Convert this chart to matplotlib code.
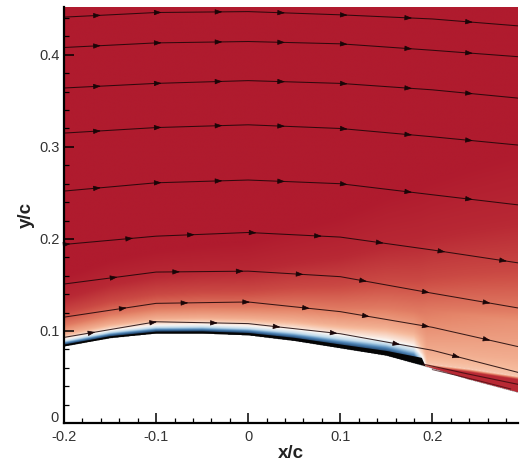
import numpy as np
import matplotlib
matplotlib.use('Agg')
import matplotlib.pyplot as plt
from matplotlib.colors import LinearSegmentedColormap
from matplotlib.ticker import MultipleLocator

plt.rcParams['font.family'] = ['Liberation Sans', 'DejaVu Sans']

# upper surface of the body
surf_x = [-0.2, -0.15, -0.1, -0.05, 0.0, 0.05, 0.1, 0.15, 0.19, 0.24, 0.293]
surf_y = [0.083, 0.092, 0.097, 0.097, 0.095, 0.089, 0.081, 0.073, 0.062, 0.047, 0.033]

# colour level against wall distance, near x/c = -0.15
prof_d = [0.0, 0.002, 0.004, 0.006, 0.009, 0.015, 0.025, 0.04, 0.06, 0.085]
prof_v = [0.0, 0.12, 0.3, 0.44, 0.54, 0.65, 0.76, 0.86, 0.94, 1.0]

# stretch of that profile along the chord
grow_x = [-0.2, -0.15, 0.0, 0.1, 0.2, 0.293]
grow_s = [0.9, 1.0, 1.2, 1.7, 2.4, 2.9]

# red separated pocket behind x/c ~ 0.19 (thickness above the wall)
wake_x = [0.185, 0.24, 0.293]
wake_w = [0.0, 0.010, 0.016]

# dark band of packed streamlines on the wall
band_x = [-0.2, -0.1, 0.0, 0.1, 0.15, 0.175, 0.188, 0.192]
band_t = [0.002, 0.002, 0.0025, 0.004, 0.005, 0.007, 0.008, 0.0]

# streamlines, y/c at the stations in stream_x
stream_x = [-0.2, -0.1, 0.0, 0.1, 0.2, 0.293]
stream_y = [
    [0.441, 0.446, 0.447, 0.4435, 0.439, 0.4315],
    [0.408, 0.413, 0.4145, 0.412, 0.405, 0.398],
    [0.364, 0.369, 0.372, 0.369, 0.362, 0.353],
    [0.315, 0.321, 0.324, 0.320, 0.311, 0.302],
    [0.252, 0.261, 0.264, 0.260, 0.248, 0.237],
    [0.194, 0.203, 0.207, 0.202, 0.188, 0.174],
    [0.151, 0.164, 0.165, 0.159, 0.141, 0.125],
    [0.115, 0.130, 0.1315, 0.121, 0.104, 0.083],
    [0.093, 0.110, 0.108, 0.097, 0.079, 0.055],
]
arrows_up = [-0.16, -0.094, -0.028, 0.04, 0.108, 0.178, 0.244]
arrow_x = [arrows_up] * 5 + [
    [-0.193, -0.125, -0.058, 0.009, 0.08, 0.147, 0.214, 0.281],
    [-0.142, -0.074, -0.005, 0.06, 0.129, 0.197, 0.263],
    [-0.132, -0.065, 0.002, 0.067, 0.132, 0.197, 0.263],
    [-0.166, -0.099, -0.033, 0.035, 0.097, 0.165, 0.23],
]

cmap = LinearSegmentedColormap.from_list('vel', [
    (0.0, '#0b1420'), (0.12, '#1d3f66'), (0.3, '#4f86b8'), (0.42, '#b7d6ea'),
    (0.52, '#fbf7f4'), (0.62, '#f6bb9d'), (0.74, '#e5866a'), (0.84, '#cf5248'),
    (0.93, '#b92a35'), (1.0, '#b01b2e')])

xmin, xmax, ymin, ymax = -0.2, 0.293, 0.0, 0.452

gx = np.linspace(xmin, xmax, 800)
gy = np.linspace(ymin, ymax, 760)
ys = np.interp(gx, surf_x, surf_y)[None, :]
d = gy[:, None] - ys
s = np.interp(gx, grow_x, grow_s)[None, :]
v_up = np.interp(d / s, prof_d, prof_v)

# behind the separation: red pocket on the wall, light shear layer above it
w = np.interp(gx, wake_x, wake_w)[None, :]
dd = d - w
lift = 0.012 * np.clip(1 - dd / 0.06, 0, 1)
v_aft = np.interp(dd / s + lift, prof_d, prof_v)
v_aft = np.where(dd < 0.0015, np.interp(dd, [-1.0, -0.002, 0.0015], [0.93, 0.93, 0.55]), v_aft)
mix = np.clip((gx - 0.18) / 0.014, 0, 1)[None, :]
v = (1 - mix) * v_up + mix * v_aft
v = np.ma.masked_where(d < 0, v)

fig = plt.figure(figsize=(5.2, 4.69), dpi=100)
ax = fig.add_axes([64 / 520, 46 / 469, 454 / 520, 416 / 469])
ax.imshow(v, extent=[xmin, xmax, ymin, ymax], origin='lower', aspect='auto',
          cmap=cmap, vmin=0, vmax=1, interpolation='bilinear', zorder=1)

# packed streamlines on the wall
bt = np.interp(gx, band_x, band_t)
yb = ys[0] + 0.0008
keep = gx <= band_x[-1]
ax.fill_between(gx[keep], yb[keep], yb[keep] + bt[keep], color='#050505', lw=0, zorder=3)

# lines running into the separated pocket
ax.plot([0.19, 0.24, 0.293], [0.064, 0.053, 0.042], color='#3a0a0e', lw=0.8, alpha=0.8, zorder=3)
ax.plot([0.2, 0.25, 0.285], [0.058, 0.046, 0.037], color='#3a0a0e', lw=0.7, alpha=0.7, zorder=3)

for ys_line, ax_list in zip(stream_y, arrow_x):
    ax.plot(stream_x, ys_line, color='#1a0507', lw=0.75, alpha=0.85, zorder=4)
    for xa in ax_list:
        ya = np.interp(xa, stream_x, ys_line)
        yb0 = np.interp(xa - 0.006, stream_x, ys_line)
        ax.annotate('', xy=(xa, ya), xytext=(xa - 0.006, yb0),
                    arrowprops=dict(arrowstyle='-|>,head_length=0.45,head_width=0.16',
                                    mutation_scale=10, color='#1a0507', lw=0.5,
                                    shrinkA=0, shrinkB=0), zorder=5)

ax.set_xlim(xmin, xmax)
ax.set_ylim(ymin, ymax)
ax.set_xticks([-0.2, -0.1, 0.0, 0.1, 0.2])
ax.set_xticklabels(['-0.2', '-0.1', '0', '0.1', '0.2'])
ax.set_yticks([0.0, 0.1, 0.2, 0.3, 0.4])
ax.set_yticklabels(['', '0.1', '0.2', '0.3', '0.4'])
ax.xaxis.set_minor_locator(MultipleLocator(0.02))
ax.yaxis.set_minor_locator(MultipleLocator(0.02))
ax.tick_params(which='both', direction='in', top=False, right=False, colors='k',
               labelcolor='#333333', labelsize=10.5)
ax.tick_params(which='major', length=7, width=1.1)
ax.tick_params(which='minor', length=3.8, width=0.9)
ax.tick_params(axis='x', pad=5)
ax.tick_params(axis='y', pad=3)
# the y "0" sits just above the "-0.2" in the corner
ax.annotate('0', xy=(0, 0), xycoords='axes fraction', xytext=(-4, 3.5),
            textcoords='offset points', ha='right', va='center',
            fontsize=10.5, color='#333333')
for side in ['top', 'right']:
    ax.spines[side].set_visible(False)
for side in ['left', 'bottom']:
    ax.spines[side].set_linewidth(1.6)
    ax.spines[side].set_zorder(6)

ax.set_xlabel('x/c', fontsize=13.5, fontweight='bold', color='#222222', labelpad=1)
ax.set_ylabel('y/c', fontsize=13.5, fontweight='bold', color='#222222', labelpad=3)

fig.savefig('out.png', dpi=100)
